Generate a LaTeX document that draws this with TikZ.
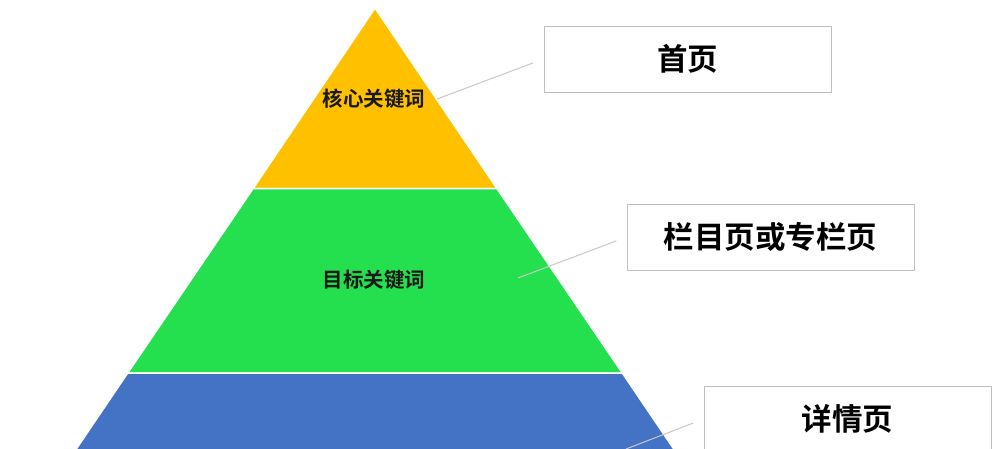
\documentclass[tikz,border=0pt]{standalone}
\usepackage{fontspec}
\newfontfamily\cjk{Noto Sans CJK SC}[BoldFont={Noto Sans CJK SC Bold}]
\usetikzlibrary{positioning}
\definecolor{coreyellow}{RGB}{255,192,0}
\definecolor{targetgreen}{RGB}{36,224,78}
\definecolor{detailblue}{RGB}{68,114,196}
\definecolor{boxgray}{RGB}{191,191,191}
\definecolor{leadgray}{RGB}{200,200,200}
\begin{document}
\begin{tikzpicture}[x=1pt,y=-1pt,
    band/.style={draw=white,line width=1.5pt},
    bandlabel/.style={font=\cjk\bfseries\fontsize{20.5}{21}\selectfont,text=black!90},
    pagebox/.style={draw=boxgray,line width=0.9pt,fill=white,minimum width=287pt,
      minimum height=66pt,inner sep=0pt,font=\cjk\bfseries\fontsize{30.5}{32}\selectfont},
    lead/.style={draw=leadgray,line width=1pt,shorten >=11pt}]
  \useasboundingbox (0,0) rectangle (1000,448);
  \clip (0,0) rectangle (1000,448);

  % Pyramid bands
  \fill[white] (0,0) rectangle (1000,448);
  \filldraw[band,fill=coreyellow] (375,8) -- (496.9,188.5) -- (253.1,188.5) -- cycle;
  \filldraw[band,fill=targetgreen] (496.9,188.5) -- (622.3,373) -- (127.7,373) -- (253.1,188.5) -- cycle;
  \filldraw[band,fill=detailblue] (622.3,373) -- (681.2,460) -- (68.8,460) -- (127.7,373) -- cycle;

  % Band labels
  \node[bandlabel] (core) at (374,99) {核心关键词};
  \node[bandlabel] (target) at (374,280) {目标关键词};

  % Page boxes
  \node[pagebox] (home) at (687.5,59) {首页};
  \node[pagebox] (column) at (770.5,237) {栏目页或专栏页};
  \node[pagebox] (detail) at (847.5,419) {详情页};

  % Leader lines
  \coordinate (corelead) at (437,99);
  \coordinate (targetlead) at (518,278);
  \coordinate (detaillead) at (626,449);
  \draw[lead] (corelead) -- (home.west);
  \draw[lead] (targetlead) -- (column.west);
  \draw[lead] (detaillead) -- (detail.west);
\end{tikzpicture}
\end{document}
